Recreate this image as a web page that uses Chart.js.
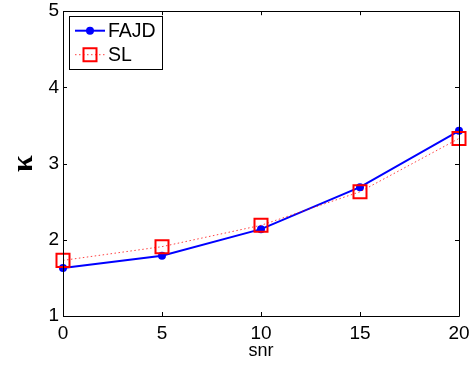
<!DOCTYPE html>
<html>
<head>
<meta charset="utf-8">
<script src="https://cdn.jsdelivr.net/npm/chart.js@4"></script>
<style>
html,body{margin:0;padding:0;background:#fff;}
#wrap{width:473px;height:365px;}
</style>
</head>
<body>
<div id="wrap"><canvas id="c" width="473" height="365"></canvas></div>
<script>
const snr = [0, 5, 10, 15, 20];
const fajd = [1.63, 1.79, 2.14, 2.69, 3.43];
const sl = [1.73, 1.91, 2.19, 2.63, 3.33];
const xTicks = [0, 5, 10, 15, 20];
const yTicks = [1, 2, 3, 4, 5];
const seriesNames = ['FAJD', 'SL'];
const xTitle = 'snr';
const yTitle = 'κ';

const FONT = '"Liberation Sans", Arial, Helvetica, sans-serif';

const boxTicks = {
  id: 'boxTicks',
  afterDatasetsDraw(chart) {
    const {ctx, chartArea: a, scales: {x, y}} = chart;
    ctx.save();
    ctx.strokeStyle = '#000';
    ctx.lineWidth = 1;
    ctx.beginPath();
    const L = 4;
    xTicks.forEach(v => {
      const px = Math.round(x.getPixelForValue(v)) + 0.5;
      ctx.moveTo(px, a.bottom); ctx.lineTo(px, a.bottom - L);
      ctx.moveTo(px, a.top); ctx.lineTo(px, a.top + L);
    });
    yTicks.forEach(v => {
      const py = Math.round(y.getPixelForValue(v)) + 0.5;
      ctx.moveTo(a.left, py); ctx.lineTo(a.left + L, py);
      ctx.moveTo(a.right, py); ctx.lineTo(a.right - L, py);
    });
    ctx.stroke();
    ctx.beginPath();
    ctx.rect(Math.round(a.left) + 0.5, Math.round(a.top) + 0.5, Math.round(a.right - a.left), Math.round(a.bottom - a.top));
    ctx.stroke();
    ctx.restore();
  },
  afterDraw(chart) {
    const {ctx, chartArea: a} = chart;
    const bx = a.left + 6, by = a.top + 5, bw = 93, bh = 53;
    ctx.save();
    ctx.fillStyle = '#fff';
    ctx.fillRect(bx, by, bw, bh);
    ctx.strokeStyle = '#000';
    ctx.lineWidth = 1;
    ctx.strokeRect(Math.round(bx) + 0.5, Math.round(by) + 0.5, bw, bh);
    [0, 1].forEach((di, row) => {
      const ds = chart.data.datasets.find(d => d.label === seriesNames[di]);
      const cy = by + 14.5 + row * 24;
      const x0 = bx + 6, x1 = bx + 36, xm = (x0 + x1) / 2;
      ctx.save();
      ctx.strokeStyle = ds.borderColor;
      ctx.lineWidth = ds.borderWidth;
      ctx.setLineDash(ds.borderDash || []);
      ctx.beginPath(); ctx.moveTo(x0, cy); ctx.lineTo(x1, cy); ctx.stroke();
      ctx.restore();
      ctx.save();
      ctx.fillStyle = ds.pointBackgroundColor;
      ctx.strokeStyle = ds.pointBorderColor;
      ctx.lineWidth = ds.pointBorderWidth;
      ctx.beginPath();
      if (ds.pointStyle === 'circle') {
        ctx.arc(xm, cy, ds.pointRadius, 0, Math.PI * 2);
        ctx.fill();
      } else {
        const s = Math.SQRT1_2 * ds.pointRadius;
        ctx.rect(xm - s, cy - s, 2 * s, 2 * s);
        ctx.stroke();
      }
      ctx.restore();
      ctx.fillStyle = '#000';
      ctx.font = '19.5px ' + FONT;
      ctx.textBaseline = 'middle';
      ctx.textAlign = 'left';
      ctx.fillText(ds.label, bx + 39, cy + 1);
    });
    ctx.restore();
  }
};

new Chart(document.getElementById('c'), {
  type: 'line',
  data: {
    datasets: [
      {
        label: seriesNames[0],
        data: snr.map((v, i) => ({x: v, y: fajd[i]})),
        borderColor: '#0000ff',
        backgroundColor: '#0000ff',
        borderWidth: 2,
        pointStyle: 'circle',
        pointRadius: 4,
        pointBorderWidth: 0,
        pointBackgroundColor: '#0000ff',
        pointBorderColor: '#0000ff',
        fill: false,
        tension: 0,
        clip: false,
        order: 1
      },
      {
        label: seriesNames[1],
        data: snr.map((v, i) => ({x: v, y: sl[i]})),
        borderColor: 'rgba(255,0,0,0.75)',
        backgroundColor: 'rgba(0,0,0,0)',
        borderWidth: 1,
        borderDash: [1.5, 2.5],
        pointStyle: 'rect',
        pointRadius: 9.2,
        pointBorderWidth: 2,
        pointBackgroundColor: 'rgba(0,0,0,0)',
        pointBorderColor: '#ff0000',
        fill: false,
        tension: 0,
        clip: false,
        order: 0
      }
    ]
  },
  options: {
    responsive: false,
    animation: false,
    devicePixelRatio: 1,
    layout: {padding: {left: 0, right: 14, top: 9, bottom: 0}},
    plugins: {legend: {display: false}, tooltip: {enabled: false}},
    scales: {
      x: {
        type: 'linear',
        min: 0, max: 20,
        afterBuildTicks: s => { s.ticks = xTicks.map(v => ({value: v})); },
        afterFit: s => { s.height = 49; s.paddingLeft = 0; s.paddingRight = 0; },
        grid: {display: false, drawTicks: false},
        border: {display: false},
        ticks: {color: '#000', font: {family: FONT, size: 19}, padding: 6, maxRotation: 0, autoSkip: false},
        title: {display: true, text: xTitle, color: '#000', font: {family: FONT, size: 18}, padding: {top: 0, bottom: 3}}
      },
      y: {
        type: 'linear',
        min: 1, max: 5,
        afterBuildTicks: s => { s.ticks = yTicks.map(v => ({value: v})); },
        afterFit: s => { s.width = 63; s.paddingTop = 0; s.paddingBottom = 0; },
        grid: {display: false, drawTicks: false},
        border: {display: false},
        ticks: {color: '#000', font: {family: FONT, size: 19}, padding: 4, autoSkip: false},
        title: {display: true, text: yTitle, color: '#000', font: {family: '"Liberation Serif", "Times New Roman", serif', size: 30, weight: 'bold'}, padding: {top: 6, bottom: 0}}
      }
    }
  },
  plugins: [boxTicks]
});
</script>
</body>
</html>
